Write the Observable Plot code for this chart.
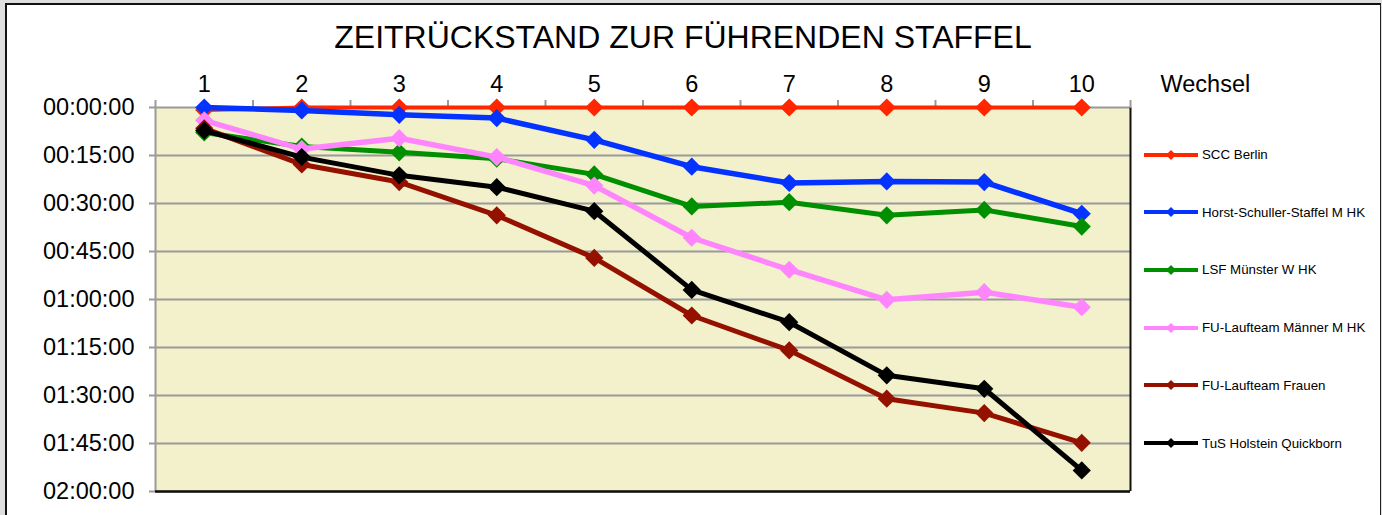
<!DOCTYPE html>
<html><head><meta charset="utf-8">
<script src="https://cdn.jsdelivr.net/npm/d3@7"></script>
<script src="https://cdn.jsdelivr.net/npm/@observablehq/plot@0.6"></script>
<style>
body{margin:0;background:#dedede;font-family:"Liberation Sans",Arial,sans-serif;}
#page{position:relative;width:1382px;height:515px;overflow:hidden;background:#dedede;}
#frame{position:absolute;left:5px;top:3px;width:1373px;height:530px;background:#fff;border-left:2px solid #111;border-top:2px solid #111;border-right:1px solid #222;}
#title{position:absolute;left:0;width:1366px;top:21px;text-align:center;font-size:32px;line-height:32px;color:#000;white-space:nowrap;}
#chart{position:absolute;left:0;top:0;}
.leg{position:absolute;left:1143px;height:16px;display:flex;align-items:center;font-size:13.3px;color:#000;white-space:nowrap;}
.leg svg{margin-right:3px;}
</style></head>
<body><div id="page"><div id="frame"></div><div id="title"></div><div id="chart"></div><div id="legend"></div></div>
<script>
const legs = [1,2,3,4,5,6,7,8,9,10];
const seriesNames = ["SCC Berlin","Horst-Schuller-Staffel M HK","LSF Münster W HK","FU-Laufteam Männer M HK","FU-Laufteam Frauen","TuS Holstein Quickborn"];
const seriesColors = ["#ff2600","#0433ff","#008f00","#ff85ff","#941100","#000000"];
const seriesWidths = [4,5.5,5,5.5,5,5];
// Rückstand in Minuten
const sccBerlin   = [0.8, 0, 0, 0, 0, 0, 0, 0, 0, 0];
const horst       = [0, 0.9, 2.3, 3.3, 10.1, 18.5, 23.6, 23.1, 23.3, 33.2];
const lsfMuenster = [7.8, 12.2, 14, 16, 20.9, 30.9, 29.6, 33.7, 32, 37.2];
const fuMaenner   = [4, 13, 9.6, 15.5, 24.4, 40.7, 50.7, 60.1, 57.7, 62.4];
const fuFrauen    = [6.5, 17.8, 23.3, 33.7, 47, 65, 75.9, 91, 95.5, 104.8];
const tusHolstein = [7.2, 15.5, 21.2, 24.9, 32.4, 57, 67.1, 83.7, 87.9, 113.4];
const seriesValues = [sccBerlin, horst, lsfMuenster, fuMaenner, fuFrauen, tusHolstein];
const yTicks = [0,15,30,45,60,75,90,105,120];
const yTickLabels = ["00:00:00","00:15:00","00:30:00","00:45:00","01:00:00","01:15:00","01:30:00","01:45:00","02:00:00"];
const titleText = "ZEITRÜCKSTAND ZUR FÜHRENDEN STAFFEL";
const xAxisLabel = "Wechsel";

document.getElementById("title").textContent = titleText;

const tables = seriesValues.map((vals, i) => legs.map((leg, j) => ({leg, min: vals[j], name: seriesNames[i]})));
const boundaries = d3.range(0.5, 11, 1);
const fmt = v => yTickLabels[yTicks.indexOf(v)];

const seriesMarks = [];
tables.forEach((t, i) => {
  seriesMarks.push(Plot.line(t, {x: "leg", y: "min", stroke: seriesColors[i], strokeWidth: seriesWidths[i], strokeLinejoin: "miter"}));
  seriesMarks.push(Plot.dot(t, {x: "leg", y: "min", symbol: "diamond2", r: 8.2, fill: seriesColors[i], stroke: null}));
});

const chart = Plot.plot({
  width: 1382, height: 515,
  marginTop: 107, marginBottom: 24, marginLeft: 155, marginRight: 252,
  style: {background: "transparent", fontFamily: "Liberation Sans, Arial, sans-serif", color: "#000", overflow: "visible"},
  x: {domain: [0.5, 10.5]},
  y: {domain: [0, 120], reverse: true},
  marks: [
    Plot.frame({fill: "#f3f0cc", stroke: null}),
    Plot.gridY(yTicks, {stroke: "#9a9a9a", strokeWidth: 2, strokeOpacity: 1}),
    Plot.ruleX([0.5], {stroke: "#9a9a9a", strokeWidth: 2}),
    Plot.ruleX([10.5], {stroke: "#111", strokeWidth: 2}),
    Plot.ruleY([120], {stroke: "#111", strokeWidth: 2.5}),
    Plot.axisY({ticks: yTicks, tickSize: 6, tickPadding: 15, tickFormat: fmt, fontSize: 23.5, stroke: "#9a9a9a", strokeWidth: 2, fill: "#000", label: null}),
    Plot.axisX({anchor: "top", ticks: boundaries, tickSize: 8, tickFormat: () => "", stroke: "#9a9a9a", strokeWidth: 2, label: null}),
    Plot.axisX({anchor: "top", ticks: legs, tickSize: 0, tickPadding: 16, fontSize: 23.5, fill: "#000", label: null}),
    Plot.text([xAxisLabel], {x: 10.5, frameAnchor: "top", dx: 30, dy: -16, textAnchor: "start", lineAnchor: "bottom", fontSize: 23.5, fill: "#000"}),
    ...seriesMarks
  ]
});
document.getElementById("chart").appendChild(chart);

const legend = document.getElementById("legend");
seriesNames.forEach((name, i) => {
  const d = document.createElement("div");
  d.className = "leg";
  d.style.top = (154.5 + i * 57.7 - 8) + "px";
  d.innerHTML = `<svg width="56" height="16"><line x1="1" x2="55" y1="8" y2="8" stroke="${seriesColors[i]}" stroke-width="4"/><path d="M28,3L33,8L28,13L23,8Z" fill="${seriesColors[i]}"/></svg><span></span>`;
  d.querySelector("span").textContent = name;
  legend.appendChild(d);
});
</script></body></html>
